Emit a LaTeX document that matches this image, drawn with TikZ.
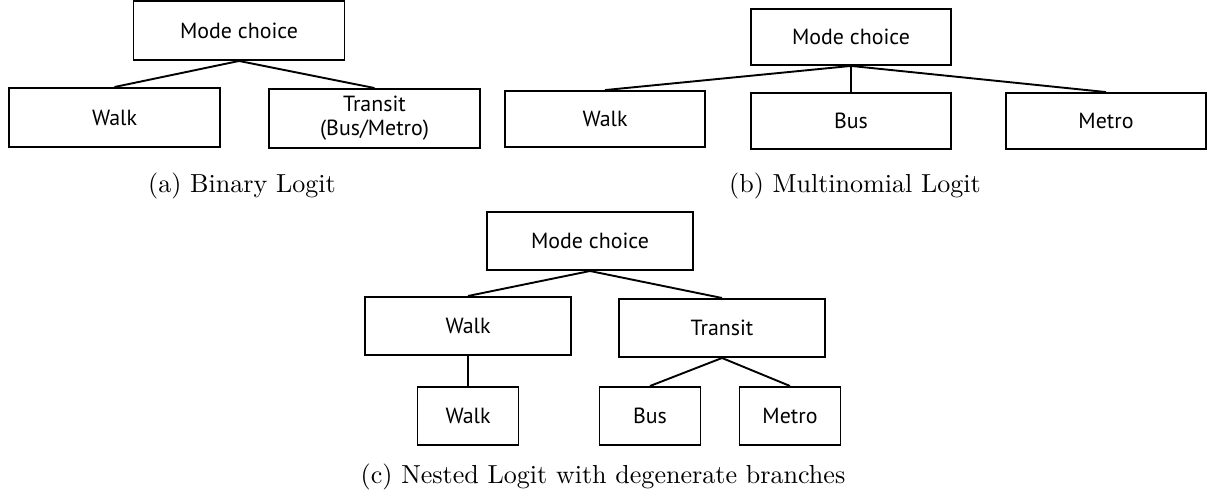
\documentclass[tikz,border=0pt]{standalone}
\usepackage{fontspec}
\newfontfamily\boxfont{PT Sans}
\usepackage{tikz}

\begin{document}
\begin{tikzpicture}[x=0.42pt,y=-0.42pt]
    \tikzstyle{every node} = [font=\boxfont\fontsize{9.2}{10}\selectfont]
    \tikzstyle{boxA} = [draw, rectangle, line width=0.8pt, minimum width=88.6pt, minimum height=24.8pt, inner sep=1pt, align=center]
    \tikzstyle{boxB} = [draw, rectangle, line width=0.8pt, minimum width=84pt, minimum height=23.5pt, inner sep=1pt]
    \tikzstyle{boxC} = [draw, rectangle, line width=0.8pt, minimum width=86.5pt, minimum height=24.4pt, inner sep=1pt]
    \tikzstyle{leafC} = [boxC, minimum width=42.4pt]
    \tikzstyle{caption} = [font=\rmfamily\fontsize{10.95}{13.6}\selectfont]
    \tikzstyle{link} = [line width=0.8pt]
    \useasboundingbox (0,0) rectangle (1216,502);
    % place nodes
    \node[boxA](modeA) at (239,30.5){Mode choice};
    \node[boxA](walkA) at (114.5,117.5){Walk};
    \node[boxA](transitA) at (374.5,118.5){Transit\\(Bus/Metro)};
    \node[caption](capA) at (242,186){(a) Binary Logit};

    \node[boxB](modeB) at (851,37){Mode choice};
    \node[boxB](walkB) at (605,119){Walk};
    \node[boxB](busB) at (851,121){Bus};
    \node[boxB](metroB) at (1106,121){Metro};
    \node[caption](capB) at (855,186){(b) Multinomial Logit};

    \node[boxC](modeC) at (590,241){Mode choice};
    \node[boxC](walkC) at (468,326){Walk};
    \node[boxC](transitC) at (722,328){Transit};
    \node[leafC](walkLeafC) at (468,416){Walk};
    \node[leafC](busC) at (650,416){Bus};
    \node[leafC](metroC) at (790,416){Metro};
    \node[caption](capC) at (603,477){(c) Nested Logit with degenerate branches};

    % Connections
    \draw[link] (modeA.south)--(walkA.north);
    \draw[link] (modeA.south)--(transitA.north);
    \draw[link] (modeB.south)--(walkB.north);
    \draw[link] (modeB.south)--(busB.north);
    \draw[link] (modeB.south)--(metroB.north);
    \draw[link] (modeC.south)--(walkC.north);
    \draw[link] (modeC.south)--(transitC.north);
    \draw[link] (walkC.south)--(walkLeafC.north);
    \draw[link] (transitC.south)--(busC.north);
    \draw[link] (transitC.south)--(metroC.north);

  \end{tikzpicture}
\end{document}
